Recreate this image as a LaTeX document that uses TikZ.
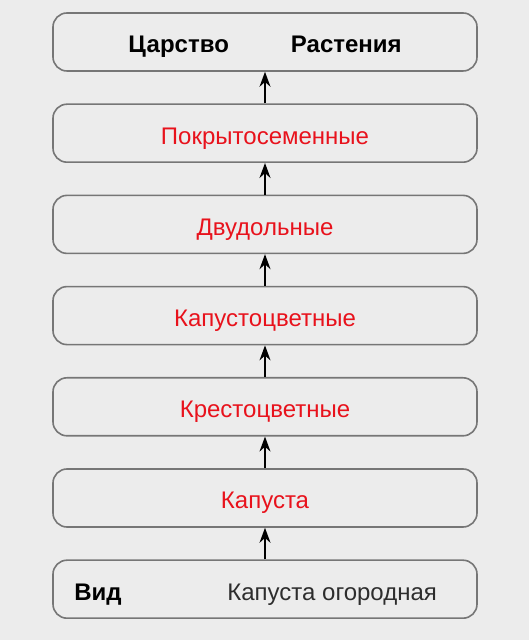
\documentclass[tikz,border=0pt]{standalone}
\usepackage{fontspec}
\setmainfont{Liberation Sans}
\usetikzlibrary{arrows.meta}
\usetikzlibrary{positioning}
\definecolor{bggray}{RGB}{236,236,236}
\definecolor{boxgray}{RGB}{118,118,118}
\definecolor{taxred}{RGB}{232,18,28}
\definecolor{textgray}{RGB}{45,45,45}

\begin{document}
\begin{tikzpicture}[x=1pt,y=1pt]
  \tikzset{taxon/.style = {shape=rectangle,rounded corners=14pt,draw=boxgray,line width=1.6pt,minimum width=424pt,minimum height=58pt,inner sep=0pt,text height=22pt,text depth=0pt,font=\fontsize{24}{28}\selectfont}}
    \tikzset{redtaxon/.style = {taxon,text=taxred}}
    \tikzset{rankname/.style = {anchor=west,inner sep=0pt,text height=22pt,text depth=0pt,font=\fontsize{24}{28}\selectfont}}
  \tikzset{%
  tipA/.tip={Stealth[length=15pt,width=11pt]},
}
  \fill[bggray] (0,0) rectangle (529,640);
  \useasboundingbox (0,0) rectangle (529,640);

	\node[taxon] (K) at (265,598) {\textbf{Царство}\hspace{62pt}\textbf{Растения}};
	\node[redtaxon,below=31.6pt of K] (P) {Покрытосеменные};
	\node[redtaxon,below=31.6pt of P] (D) {Двудольные};
	\node[redtaxon,below=31.6pt of D] (O) {Капустоцветные};
	\node[redtaxon,below=31.6pt of O] (F) {Крестоцветные};
	\node[redtaxon,below=31.6pt of F] (G) {Капуста};
	\node[taxon,below=31.6pt of G] (V) {};

	\node[rankname] (Vrank) at ([xshift=22pt]V.west) {\textbf{Вид}};
	\node[rankname,text=textgray] (Vname) at ([xshift=175pt]V.west) {Капуста огородная};

    \foreach \from/\to in {V/G, G/F, F/O, O/D, D/P, P/K}
    \draw[-tipA,line width=1.5pt](\from.north) -- (\to.south);

\end{tikzpicture}
\end{document}
